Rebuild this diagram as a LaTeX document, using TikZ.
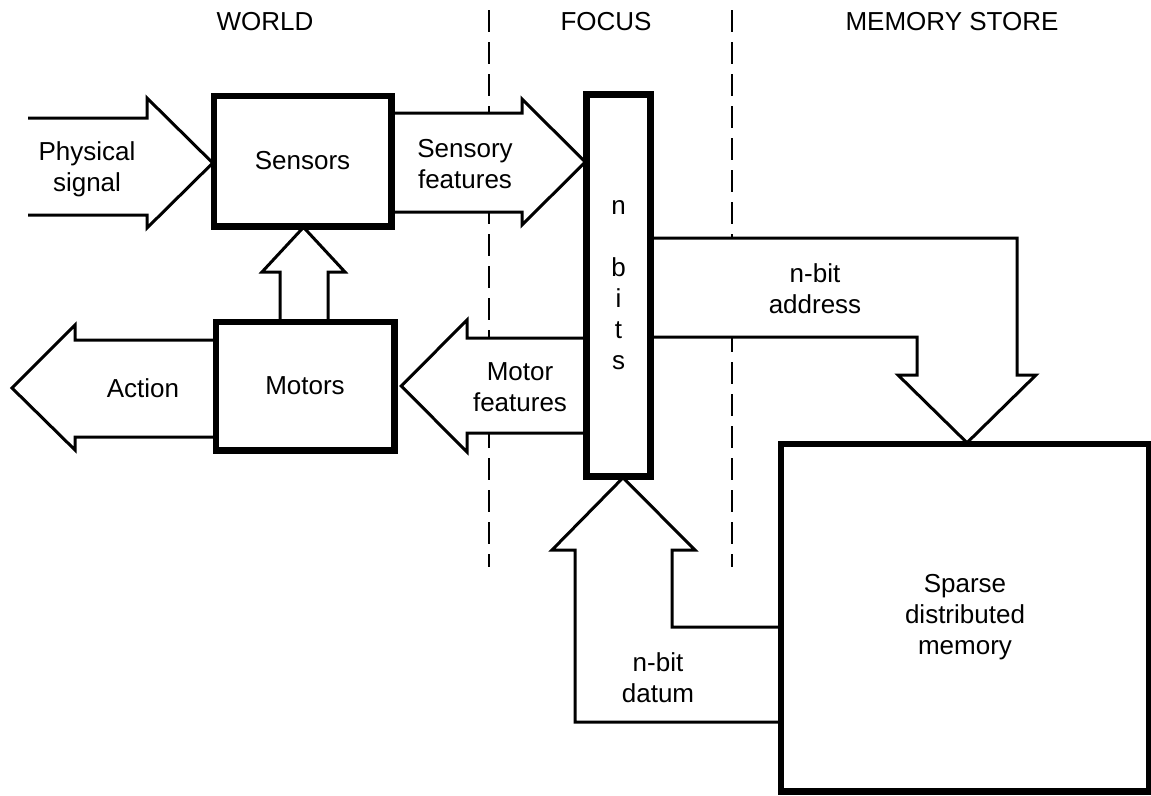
\documentclass[tikz,border=0pt]{standalone}
\usepackage{fontspec}
\setmainfont{Liberation Sans}
\usetikzlibrary{calc}
\begin{document}
\begin{tikzpicture}[x=1pt,y=-1pt,
  lbl/.style={font=\fontsize{26}{31}\selectfont, align=center, inner sep=0pt},
  unit/.style={draw, line width=4.5pt, fill=white, inner sep=0pt,
               font=\fontsize{26}{31}\selectfont, align=center},
  blockarrow/.style={draw, line width=3pt, fill=white, line join=miter},
  divider/.style={line width=2.6pt, dash pattern=on 22pt off 10pt}]

\useasboundingbox (0,0) rectangle (1151,795);

% column headings
\node[lbl] (world) at (265,22) {WORLD};
\node[lbl] (focus) at (606,22) {FOCUS};
\node[lbl] (store) at (952,22) {MEMORY STORE};

% column dividers
\coordinate (d1top) at (489,10);
\coordinate (d1bot) at (489,567);
\coordinate (d2top) at (732,10);
\coordinate (d2bot) at (732,567);
\draw[divider] (d1top) -- (d1bot);
\draw[divider] (d2top) -- (d2bot);

% blocks (placed first so the arrows can refer to them)
\path node[unit, minimum width=175pt, minimum height=128pt] (sensors) at (302.5,161) {Sensors};
\path node[unit, minimum width=176pt, minimum height=126pt] (motors) at (305,386) {Motors};
\path node[unit, minimum width=62pt, minimum height=380pt] (nbits) at (618.5,285.5) {n\\[31pt]b\\i\\t\\s};
\path node[unit, minimum width=366pt, minimum height=345pt] (sdm) at (965,617.5) {Sparse\\distributed\\memory};

% physical signal into the sensors
\coordinate (physin) at (28,166);
\draw[blockarrow, fill=none] (physin |- 0,118) -- (147,118) -- (147,98)
  -- (sensors.west |- 0,163) -- (147,228) -- (147,215) -- (physin |- 0,215);

% sensory features into the focus
\draw[blockarrow] (sensors.east |- 0,113) -- (522,113) -- (522,99)
  -- (nbits.west |- 0,162) -- (522,225) -- (522,212) -- (sensors.east |- 0,212) -- cycle;

% motors steer the sensors
\draw[blockarrow] (motors.north -| 280,0) -- (280,272) -- (262,272)
  -- (sensors.south -| 303.5,0) -- (345,272) -- (328,272) -- (motors.north -| 328,0) -- cycle;

% action out of the motors
\coordinate (actout) at (12,388);
\draw[blockarrow, fill=none] (motors.west |- 0,340) -- (75,340) -- (75,325)
  -- (actout) -- (75,450) -- (75,437) -- (motors.west |- 0,437);

% motor features from the focus
\draw[blockarrow] (nbits.west |- 0,338) -- (467,338) -- (467,320)
  -- ($(motors.east |- 0,386)+(6,0)$) -- (467,452) -- (467,433) -- (nbits.west |- 0,433) -- cycle;

% address from the focus into the memory
\draw[blockarrow] (nbits.east |- 0,238) -- (1017,238) -- (1017,375) -- (1036,375)
  -- (sdm.north -| 967,0) -- (898,375) -- (917,375) -- (917,337) -- (nbits.east |- 0,337) -- cycle;

% datum from the memory back into the focus
\draw[blockarrow] (sdm.west |- 0,627) -- (672,627) -- (672,550) -- (695,550)
  -- (nbits.south -| 623,0) -- (552,550) -- (575,550) -- (575,722) -- (sdm.west |- 0,722) -- cycle;

% redraw the block outlines over the arrow ends
\foreach \b in {sensors,motors,nbits,sdm}
  \draw[line width=4.5pt] (\b.north west) rectangle (\b.south east);

% arrow labels
\node[lbl] (physlbl) at (87,169) {Physical\\signal};
\node[lbl] (senslbl) at (465,164) {Sensory\\features};
\node[lbl] (actlbl) at (143,388) {Action};
\node[lbl] (motlbl) at (520,387) {Motor\\features};
\node[lbl] (addrlbl) at (815,289) {n-bit\\address};
\node[lbl] (datlbl) at (658,678) {n-bit\\datum};
\end{tikzpicture}
\end{document}
